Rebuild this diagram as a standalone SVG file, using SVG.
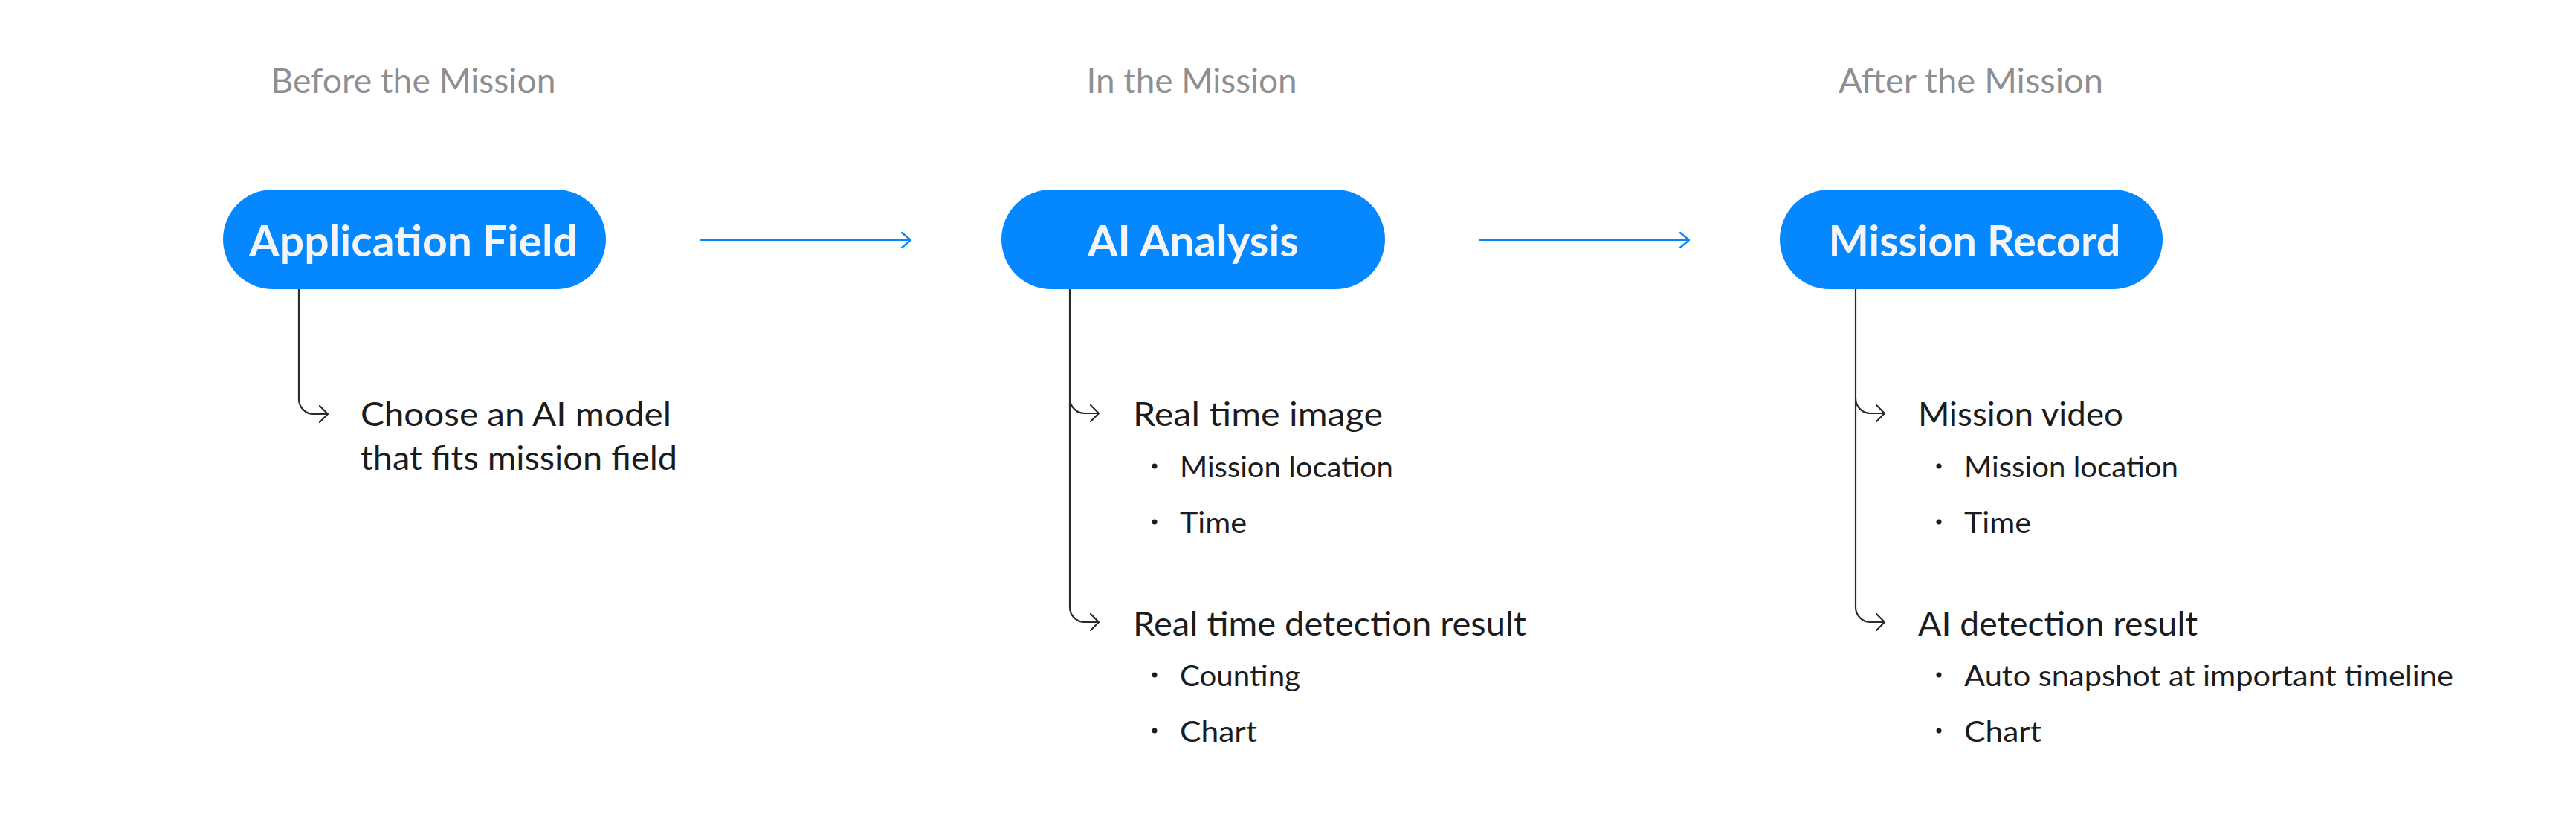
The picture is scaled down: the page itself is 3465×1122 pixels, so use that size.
<svg xmlns="http://www.w3.org/2000/svg" width="3465" height="1122" viewBox="0 0 3465 1122">
  <style>
    .title { font-family: Lato, "Liberation Sans", sans-serif; font-size: 46px; fill: #8E8E93; text-anchor: middle; }
    .pill { fill: #0588FF; }
    .pilltext { font-family: Lato, "Liberation Sans", sans-serif; font-size: 58px; font-weight: 700; fill: #F5F5F7; text-anchor: middle; }
    .item { font-family: Lato, "Liberation Sans", sans-serif; font-size: 44px; fill: #1C1C1E; }
    .sub { font-family: Lato, "Liberation Sans", sans-serif; font-size: 39px; fill: #1C1C1E; }
    .dot { fill: #1C1C1E; }
    .branch { fill: none; stroke: #2A2A2C; stroke-width: 2.2; }
    .flow { fill: none; stroke: #0588FF; stroke-width: 2.2; }
  </style>
  <defs>
    <marker id="darkArrow" markerUnits="userSpaceOnUse" markerWidth="24" markerHeight="24" viewBox="0 0 24 24" refX="23" refY="12" orient="auto" overflow="visible">
      <path d="M12,1 L23,12 L12,23" fill="none" stroke="#2A2A2C" stroke-width="2.2" stroke-linecap="round" stroke-linejoin="round"/>
    </marker>
    <marker id="blueArrow" markerUnits="userSpaceOnUse" markerWidth="24" markerHeight="24" viewBox="0 0 24 24" refX="23" refY="12" orient="auto" overflow="visible">
      <path d="M11,2 L23,12 L11,22" fill="none" stroke="#0588FF" stroke-width="2.4" stroke-linecap="round" stroke-linejoin="round"/>
    </marker>
  </defs>
  <rect width="3465" height="1122" fill="#FFFFFF"/>

  <g id="phase-titles">
    <text class="title" x="556" y="125" textLength="383" lengthAdjust="spacingAndGlyphs">Before the Mission</text>
    <text class="title" x="1603" y="125" textLength="283" lengthAdjust="spacingAndGlyphs">In the Mission</text>
    <text class="title" x="2651" y="125" textLength="356" lengthAdjust="spacingAndGlyphs">After the Mission</text>
  </g>

  <g id="connectors">
    <path class="flow" d="M942,323 H1225" marker-end="url(#blueArrow)"/>
    <path class="flow" d="M1990,323 H2272" marker-end="url(#blueArrow)"/>
    <!-- node 1 branch -->
    <path class="branch" d="M402,389 V537 A20,20 0 0 0 422,557 H441" marker-end="url(#darkArrow)"/>
    <!-- node 2 branches -->
    <path class="branch" d="M1439,389 V817 A20,20 0 0 0 1459,837 H1478" marker-end="url(#darkArrow)"/>
    <path class="branch" d="M1439,536 A20,20 0 0 0 1459,556 H1478" marker-end="url(#darkArrow)"/>
    <!-- node 3 branches -->
    <path class="branch" d="M2496,389 V817 A20,20 0 0 0 2516,837 H2535" marker-end="url(#darkArrow)"/>
    <path class="branch" d="M2496,536 A20,20 0 0 0 2516,556 H2535" marker-end="url(#darkArrow)"/>
  </g>

  <g id="node-application-field">
    <rect class="pill" x="300" y="255" width="515" height="134" rx="67"/>
    <text class="pilltext" x="556" y="345" textLength="442" lengthAdjust="spacingAndGlyphs">Application Field</text>
  </g>
  <g id="node-application-field-detail">
    <text class="item" x="485" y="573" textLength="418" lengthAdjust="spacingAndGlyphs">Choose an AI model</text>
    <text class="item" x="485" y="632" textLength="426" lengthAdjust="spacingAndGlyphs">that fits mission field</text>
  </g>

  <g id="node-ai-analysis">
    <rect class="pill" x="1347" y="255" width="516" height="134" rx="67"/>
    <text class="pilltext" x="1605" y="345" textLength="284" lengthAdjust="spacingAndGlyphs">AI Analysis</text>
  </g>
  <g id="node-real-time-image">
    <text class="item" x="1524" y="573" textLength="336" lengthAdjust="spacingAndGlyphs">Real time image</text>
    <circle class="dot" cx="1553" cy="627" r="3.5"/>
    <text class="sub" x="1587" y="642" textLength="287" lengthAdjust="spacingAndGlyphs">Mission location</text>
    <circle class="dot" cx="1553" cy="702" r="3.5"/>
    <text class="sub" x="1587" y="717" textLength="90" lengthAdjust="spacingAndGlyphs">Time</text>
  </g>
  <g id="node-real-time-detection">
    <text class="item" x="1524" y="855" textLength="529" lengthAdjust="spacingAndGlyphs">Real time detection result</text>
    <circle class="dot" cx="1553" cy="908" r="3.5"/>
    <text class="sub" x="1587" y="923" textLength="162" lengthAdjust="spacingAndGlyphs">Counting</text>
    <circle class="dot" cx="1553" cy="983" r="3.5"/>
    <text class="sub" x="1587" y="998" textLength="104" lengthAdjust="spacingAndGlyphs">Chart</text>
  </g>

  <g id="node-mission-record">
    <rect class="pill" x="2394" y="255" width="515" height="134" rx="67"/>
    <text class="pilltext" x="2656" y="345" textLength="393" lengthAdjust="spacingAndGlyphs">Mission Record</text>
  </g>
  <g id="node-mission-video">
    <text class="item" x="2580" y="573" textLength="276" lengthAdjust="spacingAndGlyphs">Mission video</text>
    <circle class="dot" cx="2608" cy="627" r="3.5"/>
    <text class="sub" x="2642" y="642" textLength="288" lengthAdjust="spacingAndGlyphs">Mission location</text>
    <circle class="dot" cx="2608" cy="702" r="3.5"/>
    <text class="sub" x="2642" y="717" textLength="90" lengthAdjust="spacingAndGlyphs">Time</text>
  </g>
  <g id="node-ai-detection">
    <text class="item" x="2580" y="855" textLength="376" lengthAdjust="spacingAndGlyphs">AI detection result</text>
    <circle class="dot" cx="2608" cy="908" r="3.5"/>
    <text class="sub" x="2642" y="923" textLength="658" lengthAdjust="spacingAndGlyphs">Auto snapshot at important timeline</text>
    <circle class="dot" cx="2608" cy="983" r="3.5"/>
    <text class="sub" x="2642" y="998" textLength="104" lengthAdjust="spacingAndGlyphs">Chart</text>
  </g>
</svg>
